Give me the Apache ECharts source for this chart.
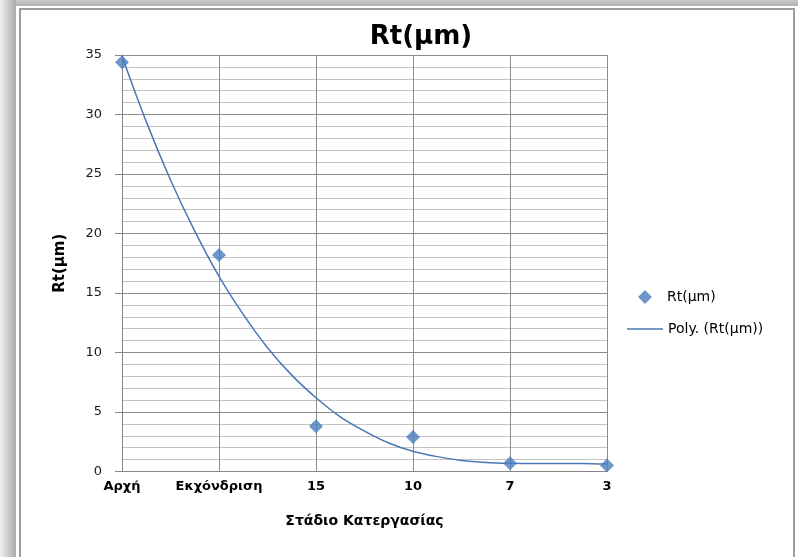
<!DOCTYPE html>
<html>
<head>
<meta charset="utf-8">
<script src="https://cdn.jsdelivr.net/npm/echarts@6/dist/echarts.min.js"></script>
<style>
  html, body { margin: 0; padding: 0; width: 798px; height: 557px; overflow: hidden; background: #ffffff; }
  #shadowTop { position: absolute; left: 0; top: 0; width: 798px; height: 6px;
    background: linear-gradient(to bottom, #c9c9c9, #b2b2b2); }
  #shadowLeft { position: absolute; left: 0; top: 0; width: 16px; height: 557px;
    background: linear-gradient(to right, #f2f2f2, #a8a8a8); }
  #frame { position: absolute; left: 19px; top: 8px; width: 776px; height: 620px; box-sizing: border-box;
    border: 2px solid #9d9d9d; background: #ffffff; }
  #chart { position: absolute; left: 0; top: 0; width: 798px; height: 557px; }
</style>
</head>
<body>
<div id="shadowTop"></div>
<div id="shadowLeft"></div>
<div id="frame"></div>
<div id="chart"></div>
<script>
// ---- data ----
const categories = ['Αρχή', 'Εκχόνδριση', '15', '10', '7', '3'];
const rtValues = [34.4, 18.2, 3.8, 2.9, 0.7, 0.5];
// polynomial trendline, at quarter-category steps
const trendPositions = [1, 1.25, 1.5, 1.75, 2, 2.25, 2.5, 2.75, 3, 3.25, 3.5, 3.75,
                        4, 4.25, 4.5, 4.75, 5, 5.25, 5.5, 5.75, 6];
const trendValues = [34.9, 29.4, 24.5, 20.2, 16.4, 13.2, 10.4, 8.1, 6.2, 4.6, 3.4, 2.4,
                     1.7, 1.25, 0.93, 0.76, 0.69, 0.67, 0.68, 0.68, 0.62];
const yTicks = { min: 0, max: 35, interval: 5 };

const FONT = '"DejaVu Sans", sans-serif';
const chart = echarts.init(document.getElementById('chart'), null, { renderer: 'canvas' });

const scatterData = rtValues.map((v, i) => [i + 1, v]);
const trendData = trendPositions.map((x, i) => [x, trendValues[i]]);

chart.setOption({
  backgroundColor: 'transparent',
  animation: false,
  title: {
    text: 'Rt(μm)',
    left: 416,
    textAlign: 'center',
    top: 19,
    textStyle: { fontFamily: FONT, fontSize: 26, fontWeight: 'bold', color: '#000000' }
  },
  legend: [
    {
      data: [{ name: 'Rt(μm)', icon: 'diamond' }],
      left: 633, top: 285,
      itemWidth: 14, itemHeight: 14,
      textStyle: { fontFamily: FONT, fontSize: 14, color: '#000000', padding: [0, 0, 0, 10] }
    },
    {
      data: [{ name: 'Poly. (Rt(μm))', icon: 'rect' }],
      left: 622, top: 317,
      itemWidth: 36, itemHeight: 1.5,
      textStyle: { fontFamily: FONT, fontSize: 14, color: '#000000' }
    }
  ],
  grid: { left: 122, right: 191, top: 55, bottom: 85.5, containLabel: false },
  xAxis: {
    type: 'value',
    min: 1, max: 6, interval: 1,
    name: 'Στάδιο Κατεργασίας',
    nameLocation: 'middle',
    nameGap: 43,
    nameTextStyle: { fontFamily: FONT, fontSize: 14, fontWeight: 'bold', color: '#000000' },
    axisLine: { show: true, onZero: false, lineStyle: { color: '#868686', width: 1 } },
    axisTick: { show: false },
    axisLabel: {
      margin: 9,
      fontFamily: FONT, fontSize: 13, fontWeight: 'bold', color: '#000000',
      formatter: v => categories[Math.round(v) - 1] || ''
    },
    splitLine: { show: true, lineStyle: { color: '#8c8c8c', width: 1 } }
  },
  yAxis: {
    type: 'value',
    min: yTicks.min, max: yTicks.max, interval: yTicks.interval,
    name: 'Rt(μm)',
    nameLocation: 'middle',
    nameRotate: 90,
    nameGap: 54,
    nameTextStyle: { fontFamily: FONT, fontSize: 15, fontWeight: 'bold', color: '#000000' },
    axisLine: { show: true, lineStyle: { color: '#868686', width: 1 } },
    axisTick: { show: true, length: 7, lineStyle: { color: '#868686' } },
    minorTick: { show: false, splitNumber: 5 },
    axisLabel: { margin: 20, fontFamily: FONT, fontSize: 13, color: '#1a1a1a' },
    splitLine: { show: true, lineStyle: { color: '#8c8c8c', width: 1 } },
    minorSplitLine: { show: true, lineStyle: { color: '#c3c3c3', width: 1 } }
  },
  series: [
    {
      name: 'Poly. (Rt(μm))',
      type: 'line',
      data: trendData,
      smooth: 0.3,
      symbol: 'none',
      lineStyle: { color: '#4a78b4', width: 1.5 },
      itemStyle: { color: '#4a78b4' },
      z: 2
    },
    {
      name: 'Rt(μm)',
      type: 'scatter',
      data: scatterData,
      symbol: 'diamond',
      symbolSize: 14,
      itemStyle: { color: '#4a7dbd' },
      z: 3
    }
  ]
});
</script>
</body>
</html>
